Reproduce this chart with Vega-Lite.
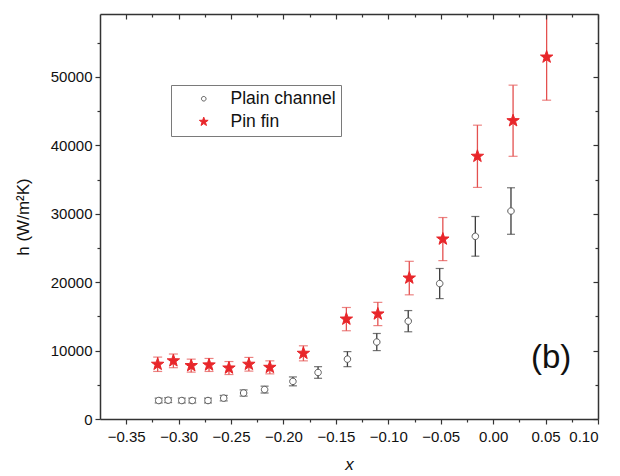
{
  "$schema": "https://vega.github.io/schema/vega-lite/v6.json",
  "width": 498,
  "height": 405,
  "autosize": {"type": "none"},
  "padding": {"left": 100, "top": 14, "right": 22, "bottom": 57},
  "background": "white",
  "config": {
    "view": {"stroke": null},
    "font": "Liberation Sans",
    "axis": {
      "grid": false,
      "domainColor": "#333333",
      "domainWidth": 1.5,
      "tickColor": "#333333",
      "tickWidth": 1.2,
      "labelFont": "Liberation Sans",
      "labelFontSize": 15,
      "labelColor": "#111111",
      "titleFont": "Liberation Sans",
      "titleFontSize": 17,
      "titleFontWeight": "normal",
      "titleColor": "#111111"
    }
  },
  "datasets": {
    "h": [
      {"series": "Plain channel", "x": -0.319, "h": 2700, "err": 350},
      {"series": "Plain channel", "x": -0.31, "h": 2750, "err": 350},
      {"series": "Plain channel", "x": -0.297, "h": 2700, "err": 350},
      {"series": "Plain channel", "x": -0.287, "h": 2700, "err": 350},
      {"series": "Plain channel", "x": -0.272, "h": 2700, "err": 350},
      {"series": "Plain channel", "x": -0.257, "h": 3050, "err": 400},
      {"series": "Plain channel", "x": -0.238, "h": 3800, "err": 450},
      {"series": "Plain channel", "x": -0.218, "h": 4300, "err": 500},
      {"series": "Plain channel", "x": -0.191, "h": 5500, "err": 650},
      {"series": "Plain channel", "x": -0.167, "h": 6800, "err": 850},
      {"series": "Plain channel", "x": -0.139, "h": 8750, "err": 1100},
      {"series": "Plain channel", "x": -0.111, "h": 11250, "err": 1250},
      {"series": "Plain channel", "x": -0.081, "h": 14300, "err": 1550},
      {"series": "Plain channel", "x": -0.051, "h": 19800, "err": 2200},
      {"series": "Plain channel", "x": -0.017, "h": 26700, "err": 2900},
      {"series": "Plain channel", "x": 0.017, "h": 30400, "err": 3400},
      {"series": "Pin fin", "x": -0.32, "h": 8000, "err": 1050},
      {"series": "Pin fin", "x": -0.305, "h": 8500, "err": 1000},
      {"series": "Pin fin", "x": -0.288, "h": 7800, "err": 950},
      {"series": "Pin fin", "x": -0.271, "h": 7900, "err": 950},
      {"series": "Pin fin", "x": -0.252, "h": 7450, "err": 950},
      {"series": "Pin fin", "x": -0.233, "h": 8000, "err": 1000},
      {"series": "Pin fin", "x": -0.213, "h": 7550, "err": 950},
      {"series": "Pin fin", "x": -0.181, "h": 9600, "err": 1100},
      {"series": "Pin fin", "x": -0.14, "h": 14600, "err": 1700},
      {"series": "Pin fin", "x": -0.11, "h": 15350, "err": 1700},
      {"series": "Pin fin", "x": -0.08, "h": 20600, "err": 2450},
      {"series": "Pin fin", "x": -0.048, "h": 26300, "err": 3150},
      {"series": "Pin fin", "x": -0.015, "h": 38400, "err": 4550},
      {"series": "Pin fin", "x": 0.019, "h": 43600, "err": 5200},
      {"series": "Pin fin", "x": 0.051, "h": 52900, "err": 6300}
    ],
    "tag": [{"x": 0.0553, "h": 8950, "label": "(b)"}]
  },
  "layer": [
    {
      "data": {"name": "h"},
      "transform": [{"filter": "datum.series === 'Plain channel'"}],
      "mark": {"type": "errorbar", "ticks": {"size": 8, "thickness": 1.2}, "rule": {"strokeWidth": 1.3}, "color": "#3a3a3a", "clip": true},
      "encoding": {
        "x": {"field": "x", "type": "quantitative", "scale": {"domain": [-0.375, 0.1], "nice": false, "zero": false}, "axis": null},
        "y": {"field": "h", "type": "quantitative", "scale": {"domain": [0, 59200], "nice": false}, "axis": null},
        "yError": {"field": "err"}
      }
    },
    {
      "data": {"name": "h"},
      "transform": [{"filter": "datum.series === 'Pin fin'"}],
      "mark": {"type": "errorbar", "ticks": {"size": 9, "thickness": 1.2}, "rule": {"strokeWidth": 1.3}, "color": "#e4504f", "clip": true},
      "encoding": {
        "x": {"field": "x", "type": "quantitative", "scale": {"domain": [-0.375, 0.1], "nice": false, "zero": false}, "axis": null},
        "y": {"field": "h", "type": "quantitative", "scale": {"domain": [0, 59200], "nice": false}, "axis": null},
        "yError": {"field": "err"}
      }
    },
    {
      "data": {"name": "h"},
      "mark": {"type": "point", "filled": true, "strokeWidth": 1, "opacity": 1, "size": 170},
      "encoding": {
        "x": {
          "field": "x", "type": "quantitative",
          "scale": {"domain": [-0.375, 0.1], "nice": false, "zero": false},
          "axis": {
            "orient": "bottom",
            "title": "x",
            "titleFontStyle": "italic",
            "titlePadding": 12,
            "values": [-0.35, -0.325, -0.3, -0.275, -0.25, -0.225, -0.2, -0.175, -0.15, -0.125, -0.1, -0.075, -0.05, -0.025, 0, 0.025, 0.05, 0.075, 0.1],
            "format": ".2f",
            "labelExpr": "abs(datum.value * 20 - round(datum.value * 20)) < 0.01 ? datum.label : ''",
            "labelOverlap": false,
            "labelPadding": 5,
            "tickSize": {"condition": {"test": "abs(datum.value * 20 - round(datum.value * 20)) < 0.01", "value": 5}, "value": 3}
          }
        },
        "y": {
          "field": "h", "type": "quantitative",
          "scale": {"domain": [0, 59200], "nice": false},
          "axis": {
            "orient": "left",
            "title": "h (W/m²K)",
            "titlePadding": 18,
            "values": [0, 5000, 10000, 15000, 20000, 25000, 30000, 35000, 40000, 45000, 50000, 55000],
            "format": "d",
            "labelExpr": "datum.value % 10000 === 0 ? datum.label : ''",
            "labelOverlap": false,
            "labelPadding": 3,
            "tickSize": {"condition": {"test": "datum.value % 10000 === 0", "value": 5}, "value": 3}
          }
        },
        "fill": {
          "field": "series", "type": "nominal",
          "scale": {"domain": ["Plain channel", "Pin fin"], "range": ["#ffffff", "#e8262a"]},
          "legend": {
            "title": null,
            "orient": "none",
            "legendX": 71,
            "legendY": 71,
            "direction": "vertical",
            "fillColor": "#ffffff",
            "strokeColor": "#7a7a7a",
            "padding": 5,
            "symbolSize": 85,
            "symbolStrokeWidth": 1,
            "symbolOffset": 19,
            "labelOffset": 18,
            "rowPadding": 4,
            "labelFont": "Liberation Sans",
            "labelFontSize": 17.5,
            "labelColor": "#111111"
          }
        },
        "stroke": {
          "field": "series", "type": "nominal",
          "scale": {"domain": ["Plain channel", "Pin fin"], "range": ["#5a5a5a", "#e8262a"]}
        },
        "shape": {
          "field": "series", "type": "nominal",
          "scale": {"domain": ["Plain channel", "Pin fin"], "range": ["M-0.5,0A0.5,0.5 0 1,0 0.5,0A0.5,0.5 0 1,0 -0.5,0Z", "M0,-1L0.235,-0.324L0.951,-0.309L0.38,0.124L0.588,0.809L0,0.4L-0.588,0.809L-0.38,0.124L-0.951,-0.309L-0.235,-0.324Z"]}
        }
      }
    },
    {
      "data": {"name": "tag"},
      "mark": {"type": "text", "font": "Liberation Sans", "fontSize": 33, "align": "center", "baseline": "middle", "color": "#111111"},
      "encoding": {
        "x": {
          "field": "x", "type": "quantitative",
          "scale": {"domain": [-0.375, 0.1], "nice": false, "zero": false},
          "axis": {
            "orient": "bottom",
            "offset": -405,
            "zindex": 1,
            "title": null,
            "labels": true,
            "labelExpr": "''",
            "labelPadding": 0,
            "values": [-0.35, -0.3, -0.25, -0.2, -0.15, -0.1, -0.05, 0, 0.05, 0.1],
            "tickSize": 5
          }
        },
        "y": {
          "field": "h", "type": "quantitative",
          "scale": {"domain": [0, 59200], "nice": false},
          "axis": {
            "orient": "left",
            "offset": -498,
            "title": null,
            "labels": false,
            "values": [0, 10000, 20000, 30000, 40000, 50000],
            "tickSize": 5
          }
        },
        "text": {"field": "label"}
      }
    },
    {
      "data": {"name": "tag"},
      "mark": {"type": "text", "opacity": 0},
      "encoding": {
        "x": {
          "field": "x", "type": "quantitative",
          "scale": {"domain": [-0.375, 0.1], "nice": false, "zero": false},
          "axis": {
            "orient": "bottom",
            "offset": -405,
            "zindex": 1,
            "title": null,
            "labels": true,
            "labelExpr": "''",
            "labelPadding": 0,
            "domain": false,
            "values": [-0.325, -0.275, -0.225, -0.175, -0.125, -0.075, -0.025, 0.025, 0.075],
            "tickSize": 3
          }
        },
        "y": {
          "field": "h", "type": "quantitative",
          "scale": {"domain": [0, 59200], "nice": false},
          "axis": {
            "orient": "left",
            "offset": -498,
            "title": null,
            "labels": false,
            "domain": false,
            "values": [5000, 15000, 25000, 35000, 45000, 55000],
            "tickSize": 3
          }
        },
        "text": {"field": "label"}
      }
    }
  ],
  "resolve": {"axis": {"x": "independent", "y": "independent"}}
}
